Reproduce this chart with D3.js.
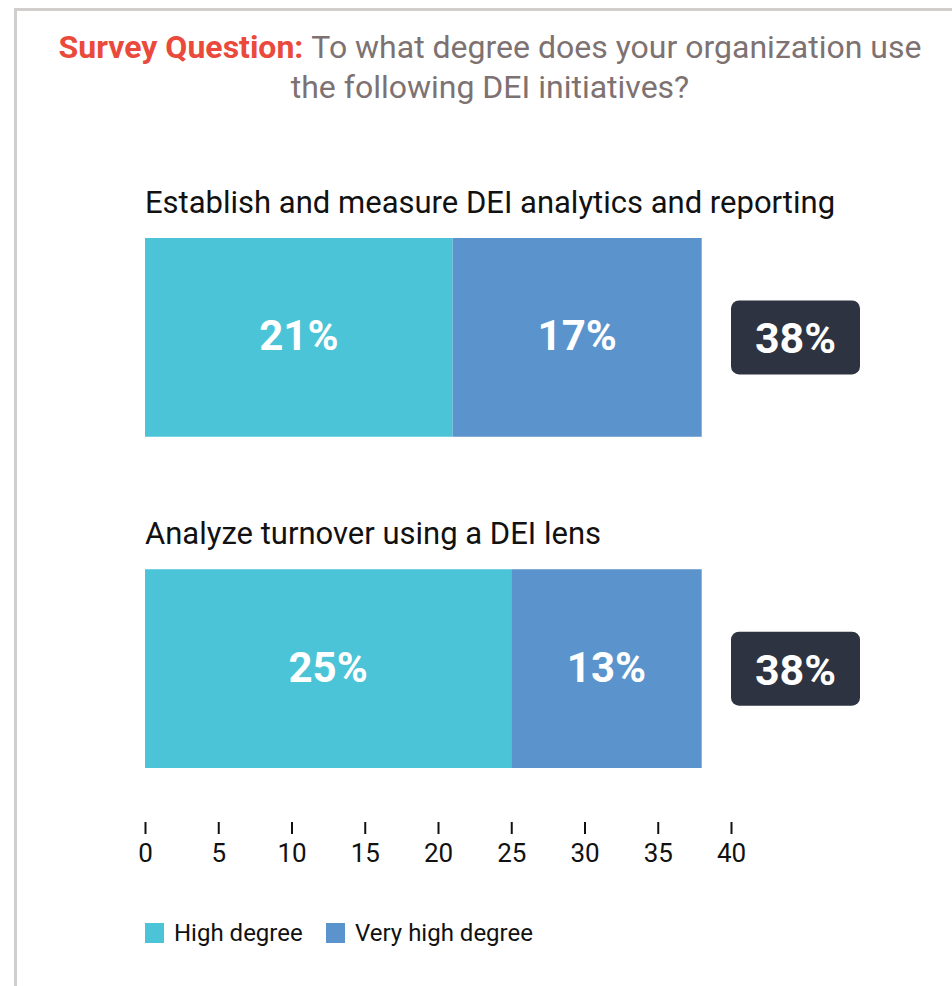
<!DOCTYPE html>
<html>
<head>
<meta charset="utf-8">
<script src="https://cdn.jsdelivr.net/npm/d3@7"></script>
<style>
  body { margin: 0; background: #fff; }
  svg { display: block; font-family: Roboto, "Noto Sans", sans-serif; }
</style>
</head>
<body>
<div id="chart"></div>
<script>
// data
const initiatives = ["Establish and measure DEI analytics and reporting", "Analyze turnover using a DEI lens"];
const highDegree = [21, 25];
const veryHighDegree = [17, 13];
const totals = [38, 38];
const seriesNames = ["High degree", "Very high degree"];
const xTicks = [0, 5, 10, 15, 20, 25, 30, 35, 40];

const width = 952, height = 986;
const colors = ["#4bc4d7", "#5b93cc"];

const svg = d3.select("#chart").append("svg")
    .attr("width", width)
    .attr("height", height);

// frame
svg.append("path")
    .attr("d", `M15.5,${height} V9.5 H${width}`)
    .attr("fill", "none")
    .attr("stroke", "#d2cecd")
    .attr("stroke-width", 3);

// title
const title = svg.append("text")
    .attr("text-anchor", "middle")
    .attr("font-size", 32);
const line1 = title.append("tspan").attr("x", 490).attr("y", 58);
line1.append("tspan").attr("fill", "#ea4a3b").attr("font-weight", 700).text("Survey Question: ");
line1.append("tspan").attr("fill", "#7d7271").text("To what degree does your organization use");
title.append("tspan").attr("x", 490).attr("y", 98).attr("fill", "#7d7271")
    .text("the following DEI initiatives?");

// scales
const x = d3.scaleLinear().domain([0, 40]).range([145, 731]);
const y = d3.scaleBand().domain(initiatives).range([238, 768]).paddingInner(0.4);

const rows = initiatives.map((name, i) => ({
    name: name,
    parts: [
        {key: seriesNames[0], x0: 0, x1: highDegree[i]},
        {key: seriesNames[1], x0: highDegree[i], x1: highDegree[i] + veryHighDegree[i]}
    ],
    total: totals[i]
}));

const row = svg.selectAll(".row")
    .data(rows)
    .enter()
    .append("g")
    .attr("class", "row")
    .attr("transform", d => `translate(0, ${y(d.name)})`);

row.append("text")
    .attr("x", x(0))
    .attr("y", -25)
    .attr("font-size", 31)
    .attr("fill", "#111")
    .text(d => d.name);

const seg = row.selectAll(".seg")
    .data(d => d.parts)
    .enter()
    .append("g")
    .attr("class", "seg");

seg.append("rect")
    .attr("x", d => x(d.x0))
    .attr("y", 0)
    .attr("width", d => x(d.x1) - x(d.x0))
    .attr("height", y.bandwidth())
    .attr("fill", (d, i) => colors[i]);

seg.append("text")
    .attr("x", d => (x(d.x0) + x(d.x1)) / 2)
    .attr("y", y.bandwidth() / 2 + 13)
    .attr("text-anchor", "middle")
    .attr("font-size", 42)
    .attr("font-weight", 700)
    .attr("fill", "#fff")
    .text(d => (d.x1 - d.x0) + "%");

// total boxes
row.append("rect")
    .attr("x", 731)
    .attr("y", y.bandwidth() / 2 - 37)
    .attr("width", 129)
    .attr("height", 74)
    .attr("rx", 8)
    .attr("fill", "#2d3340");

row.append("text")
    .attr("x", 795.5)
    .attr("y", y.bandwidth() / 2 + 16)
    .attr("text-anchor", "middle")
    .attr("font-size", 43)
    .attr("font-weight", 700)
    .attr("fill", "#fff")
    .text(d => d.total + "%");

// axis
const xAxis = d3.axisBottom(x)
    .tickValues(xTicks)
    .tickSize(12)
    .tickPadding(10);

const axisG = svg.append("g")
    .attr("transform", "translate(0, 822)")
    .call(xAxis);
axisG.select(".domain").remove();
axisG.selectAll(".tick line").attr("stroke", "#111").attr("stroke-width", 2);
axisG.selectAll(".tick text")
    .attr("font-family", "Roboto, sans-serif")
    .attr("font-size", 26)
    .attr("fill", "#111");

// legend
const legend = svg.append("g")
    .attr("transform", "translate(145, 923)");
const legendX = [0, 181];
const item = legend.selectAll(".item")
    .data(seriesNames)
    .enter()
    .append("g")
    .attr("transform", (d, i) => `translate(${legendX[i]}, 0)`);
item.append("rect")
    .attr("width", 19)
    .attr("height", 20)
    .attr("fill", (d, i) => colors[i]);
item.append("text")
    .attr("x", 29)
    .attr("y", 18)
    .attr("font-size", 24)
    .attr("fill", "#111")
    .text(d => d);
</script>
</body>
</html>
